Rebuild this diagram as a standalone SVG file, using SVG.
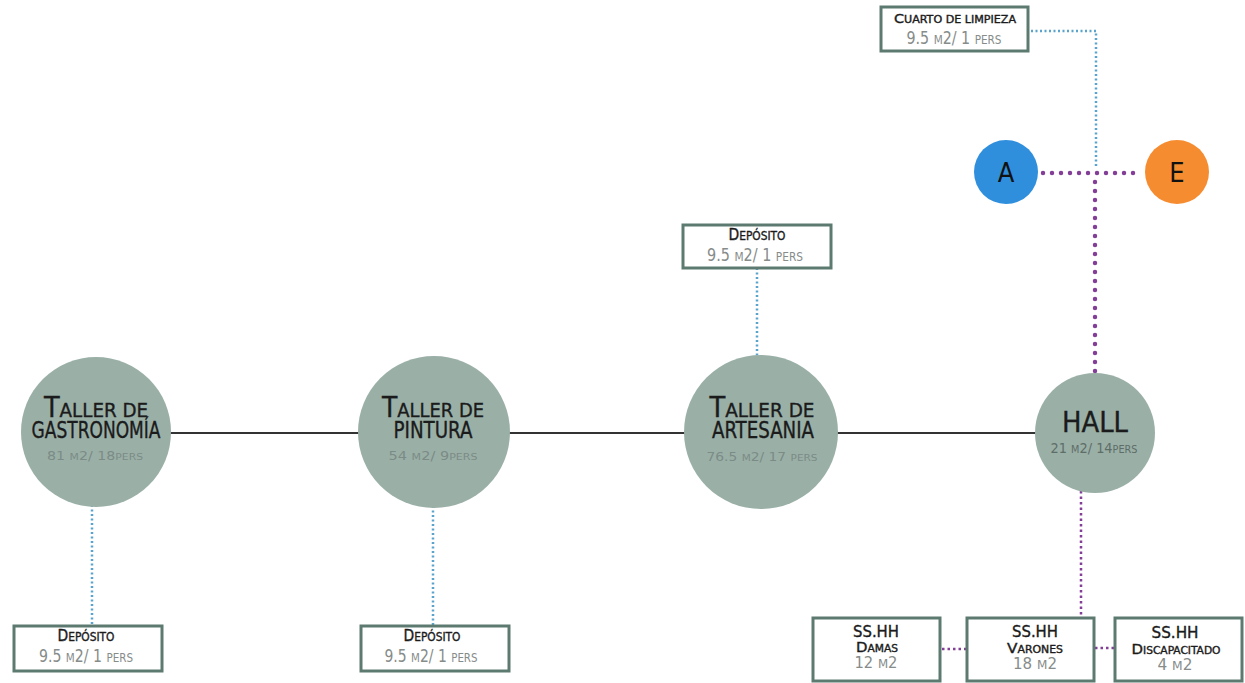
<svg xmlns="http://www.w3.org/2000/svg" width="1245" height="683" viewBox="0 0 1245 683">
<style>
text{font-family:"DejaVu Sans Condensed","DejaVu Sans","Liberation Sans",sans-serif;text-anchor:middle}
.t{fill:#1b1b1b;stroke:#1b1b1b;stroke-width:0.35}
.n{fill:#7c8b86}
.nb{fill:#868c8a}
.nh{fill:#5f6d68}
.circ{fill:#9ab0a7}
.box{fill:#fff;stroke:#5c7a70;stroke-width:3}
.solid{stroke:#333;stroke-width:2;fill:none}
.blue{stroke:#5aa3cc;stroke-width:2.5;stroke-dasharray:2 2.5;fill:none}
.purp{stroke:#833f98;stroke-width:4.5;stroke-linecap:round;stroke-dasharray:0 9;fill:none}
.purp2{stroke:#833f98;stroke-width:2.5;stroke-dasharray:2.5 3;fill:none}
</style>
<rect width="1245" height="683" fill="#fff"/>
<g id="connectors">
<line class="solid" x1="170" y1="433" x2="360" y2="433"/>
<line class="solid" x1="508" y1="433" x2="686" y2="433"/>
<line class="solid" x1="836" y1="433" x2="1037" y2="433"/>
<line class="blue" x1="92" y1="505" x2="92" y2="626"/>
<line class="blue" x1="433" y1="506" x2="433" y2="626"/>
<line class="blue" x1="757" y1="268" x2="757" y2="356"/>
<polyline class="blue" points="1031,31 1096,31 1096,168"/>
<line class="purp" x1="1043" y1="173" x2="1140" y2="173"/>
<line class="purp" x1="1095" y1="182" x2="1095" y2="373"/>
<line class="purp2" x1="1081" y1="491" x2="1081" y2="617"/>
<line class="purp2" x1="942" y1="649" x2="966" y2="649"/>
<line class="purp2" x1="1095" y1="648" x2="1114" y2="648"/>
</g>
<g id="gastronomia">
<circle class="circ" cx="96" cy="432" r="75"/>
<text class="t" x="96" y="417" textLength="104" lengthAdjust="spacingAndGlyphs"><tspan font-size="28">T</tspan><tspan font-size="20">ALLER DE</tspan></text>
<text class="t" x="96" y="438" font-size="23" textLength="129" lengthAdjust="spacingAndGlyphs">GASTRONOMÍA</text>
<text class="n" x="95" y="460" textLength="96" lengthAdjust="spacingAndGlyphs"><tspan font-size="12.5">81 </tspan><tspan font-size="9.5">M</tspan><tspan font-size="12.5">2/ 18</tspan><tspan font-size="9.5">PERS</tspan></text>
</g>
<g id="pintura">
<circle class="circ" cx="434" cy="432" r="76"/>
<text class="t" x="433" y="417" textLength="102" lengthAdjust="spacingAndGlyphs"><tspan font-size="28">T</tspan><tspan font-size="20">ALLER DE</tspan></text>
<text class="t" x="433" y="438" font-size="23" textLength="79" lengthAdjust="spacingAndGlyphs">PINTURA</text>
<text class="n" x="433" y="460" textLength="89" lengthAdjust="spacingAndGlyphs"><tspan font-size="12.5">54 </tspan><tspan font-size="9.5">M</tspan><tspan font-size="12.5">2/ 9</tspan><tspan font-size="9.5">PERS</tspan></text>
</g>
<g id="artesania">
<circle class="circ" cx="761" cy="432" r="77"/>
<text class="t" x="762" y="417" textLength="105" lengthAdjust="spacingAndGlyphs"><tspan font-size="28">T</tspan><tspan font-size="20">ALLER DE</tspan></text>
<text class="t" x="763" y="438" font-size="23" textLength="102" lengthAdjust="spacingAndGlyphs">ARTESANIA</text>
<text class="n" x="762" y="461" textLength="111" lengthAdjust="spacingAndGlyphs"><tspan font-size="12.5">76.5 </tspan><tspan font-size="9.5">M</tspan><tspan font-size="12.5">2/ 17 </tspan><tspan font-size="9.5">PERS</tspan></text>
</g>
<g id="hall">
<circle class="circ" cx="1095" cy="433" r="60"/>
<text class="t" x="1095" y="432" font-size="28" textLength="66" lengthAdjust="spacingAndGlyphs">HALL</text>
<text class="nh" x="1094" y="453" textLength="87" lengthAdjust="spacingAndGlyphs"><tspan font-size="14">21 </tspan><tspan font-size="10.5">M</tspan><tspan font-size="14">2/ 14</tspan><tspan font-size="10.5">PERS</tspan></text>
</g>
<g id="deposito-1">
<rect class="box" x="14" y="626" width="148" height="45"/>
<text class="t" x="86" y="641" textLength="57" lengthAdjust="spacingAndGlyphs"><tspan font-size="15">D</tspan><tspan font-size="11.5">EPÓSITO</tspan></text>
<text class="nb" x="86" y="662" textLength="94" lengthAdjust="spacingAndGlyphs"><tspan font-size="17">9.5 </tspan><tspan font-size="12.5">M</tspan><tspan font-size="17">2/ 1 </tspan><tspan font-size="12.5">PERS</tspan></text>
</g>
<g id="deposito-2">
<rect class="box" x="361" y="626" width="148" height="45"/>
<text class="t" x="432" y="641" textLength="57" lengthAdjust="spacingAndGlyphs"><tspan font-size="15">D</tspan><tspan font-size="11.5">EPÓSITO</tspan></text>
<text class="nb" x="431" y="662" textLength="93" lengthAdjust="spacingAndGlyphs"><tspan font-size="17">9.5 </tspan><tspan font-size="12.5">M</tspan><tspan font-size="17">2/ 1 </tspan><tspan font-size="12.5">PERS</tspan></text>
</g>
<g id="deposito-3">
<rect class="box" x="683" y="225" width="148" height="43"/>
<text class="t" x="757" y="240" textLength="57" lengthAdjust="spacingAndGlyphs"><tspan font-size="15">D</tspan><tspan font-size="11.5">EPÓSITO</tspan></text>
<text class="nb" x="755" y="261" textLength="96" lengthAdjust="spacingAndGlyphs"><tspan font-size="17">9.5 </tspan><tspan font-size="12.5">M</tspan><tspan font-size="17">2/ 1 </tspan><tspan font-size="12.5">PERS</tspan></text>
</g>
<g id="cuarto-limpieza">
<rect class="box" x="881" y="7" width="147" height="44"/>
<text class="t" x="955" y="23" textLength="122" lengthAdjust="spacingAndGlyphs"><tspan font-size="13">C</tspan><tspan font-size="10">UARTO DE LIMPIEZA</tspan></text>
<text class="nb" x="954" y="44" textLength="95" lengthAdjust="spacingAndGlyphs"><tspan font-size="17">9.5 </tspan><tspan font-size="12.5">M</tspan><tspan font-size="17">2/ 1 </tspan><tspan font-size="12.5">PERS</tspan></text>
</g>
<g id="A">
<circle cx="1006" cy="172" r="32" fill="#2f8fdc"/>
<text x="1006" y="182" font-size="27" fill="#111" font-family="DejaVu Sans,sans-serif">A</text>
</g>
<g id="E">
<circle cx="1177" cy="172" r="32" fill="#f68c30"/>
<text x="1177" y="182" font-size="27" fill="#111" font-family="DejaVu Sans,sans-serif">E</text>
</g>
<g id="sshh-damas">
<rect class="box" x="813" y="618" width="127" height="63"/>
<text class="t" x="876" y="637" font-size="16" textLength="46" lengthAdjust="spacingAndGlyphs">SS.HH</text>
<text class="t" x="877" y="652" textLength="42" lengthAdjust="spacingAndGlyphs"><tspan font-size="14">D</tspan><tspan font-size="10">AMAS</tspan></text>
<text class="nb" x="876" y="668" textLength="43" lengthAdjust="spacingAndGlyphs"><tspan font-size="15">12 </tspan><tspan font-size="12">M</tspan><tspan font-size="15">2</tspan></text>
</g>
<g id="sshh-varones">
<rect class="box" x="967" y="618" width="127" height="63"/>
<text class="t" x="1035" y="637" font-size="16" textLength="46" lengthAdjust="spacingAndGlyphs">SS.HH</text>
<text class="t" x="1035" y="653" textLength="56" lengthAdjust="spacingAndGlyphs"><tspan font-size="14">V</tspan><tspan font-size="10">ARONES</tspan></text>
<text class="nb" x="1035" y="669" textLength="44" lengthAdjust="spacingAndGlyphs"><tspan font-size="15">18 </tspan><tspan font-size="12">M</tspan><tspan font-size="15">2</tspan></text>
</g>
<g id="sshh-discapacitado">
<rect class="box" x="1115" y="618" width="127" height="63"/>
<text class="t" x="1175" y="638" font-size="16" textLength="47" lengthAdjust="spacingAndGlyphs">SS.HH</text>
<text class="t" x="1176" y="654" textLength="89" lengthAdjust="spacingAndGlyphs"><tspan font-size="14">D</tspan><tspan font-size="10">ISCAPACITADO</tspan></text>
<text class="nb" x="1175" y="670" textLength="35" lengthAdjust="spacingAndGlyphs"><tspan font-size="15">4 </tspan><tspan font-size="12">M</tspan><tspan font-size="15">2</tspan></text>
</g>
</svg>
